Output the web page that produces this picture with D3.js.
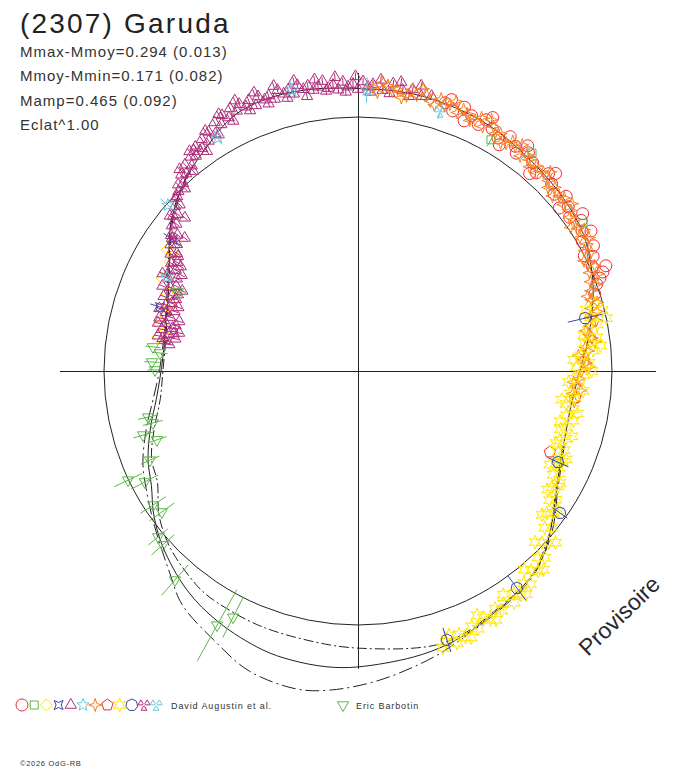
<!DOCTYPE html>
<html>
<head>
<meta charset="utf-8">
<script src="https://cdn.jsdelivr.net/npm/d3@7"></script>
<style>
body{margin:0;background:#fff;}
svg{display:block;font-family:"Liberation Sans",Arial,sans-serif;}
</style>
</head>
<body>
<script>
// phase angle in degrees (clockwise from top), relative flux (1 = reference circle), [error]
var fitSolid = [[0,1.112],[8,1.112],[15,1.110],[26,1.099],[36,1.079],[49,1.058],[58,1.040],[64,1.015],[70,0.985],[75,0.955],[82,0.915],[90,0.874],[97,0.852],[104,0.850],[110,0.861],[116,0.882],[122,0.919],[127,0.960],[132,1.006],[138,1.050],[146,1.079],[151,1.094],[156,1.114],[162,1.133],[169,1.147],[180,1.165],[186,1.171],[193,1.168],[199,1.160],[209,1.131],[218,1.094],[228,1.034],[235,0.982],[241,0.930],[247,0.898],[255,0.845],[262,0.802],[268,0.780],[274,0.770],[280,0.772],[286,0.785],[293,0.810],[301,0.866],[308,0.936],[316,1.000],[322,1.040],[326,1.064],[331,1.100],[336,1.124],[343,1.130],[350,1.125],[355,1.118]];
var fitInner = [[110,0.858],[120,0.902],[130,0.985],[140,1.058],[150,1.086],[157,1.112],[163,1.122],[169,1.112],[180,1.091],[186,1.084],[197,1.076],[204,1.073],[214,1.064],[219,1.048],[227,1.014],[234,0.968],[241,0.903],[247,0.883],[254,0.835],[262,0.786],[270,0.768],[280,0.768],[290,0.796],[300,0.856],[310,0.948],[320,1.026]];
var fitOuter = [[110,0.864],[120,0.910],[130,0.995],[140,1.064],[150,1.096],[157,1.122],[165,1.164],[176,1.220],[185,1.261],[191,1.275],[200,1.256],[208,1.203],[217,1.151],[223,1.087],[233,1.005],[241,0.954],[247,0.920],[255,0.862],[262,0.815],[270,0.782],[280,0.776],[290,0.802],[300,0.862],[310,0.955],[320,1.034]];

var augRedCircle = [[18,1.11],[19,1.13],[20,1.09],[22,1.12],[23,1.07],[24,1.10],[26,1.08],[27,1.11],[28,1.13],[29,1.09],[31,1.07],[32,1.05],[33,1.10],[35,1.08],[36,1.06],[37,1.11],[38,1.09],[40,1.07],[41,1.03],[42,1.05],[44,1.08],[45,1.10],[46,1.06],[48,1.04],[50,1.07],[51,1.02],[52,1.05],[54,1.03],[55,1.08],[56,1.06],[58,1.04],[59,1.07],[60,1.02],[62,1.05],[63,1.00],[64,1.03],[66,1.01],[67,1.06],[68,1.04],[69,1.02],[70,1.00],[72,0.98]];
var augGreenSquare = [[29.9,1.050,0.03],[38.6,1.098],[56.7,1.060],[114.7,0.867,0.02]];
var augYellowDiamond = [[302.4,0.890],[300.1,0.856],[295.4,0.854],[296.7,0.815],[292.2,0.812],[286.2,0.791],[279.6,0.799],[280.1,0.764],[302.4,0.867],[283.1,0.800],[289,0.780]];
var augBlueBowtie = [[305.3,0.893,0.045],[287.9,0.819,0.04]];
var augMagentaTriangle = [[278,0.75],[279,0.77],[279.5,0.78],[280,0.80],[280,0.73],[281,0.76],[281.5,0.74],[282,0.79],[282,0.72],[283,0.75],[283.5,0.81],[284,0.78],[284,0.74],[285,0.81],[285.5,0.73],[286,0.77],[287,0.79],[287.5,0.82],[288,0.76],[289,0.80],[289.5,0.75],[290,0.78],[291,0.82],[291.5,0.77],[292,0.79],[293,0.77],[293.5,0.84],[294,0.81],[294.5,0.76],[295,0.79],[296,0.83],[296.5,0.86],[297,0.80],[298,0.84],[298.5,0.79],[299,0.82],[300,0.85],[300.5,0.81],[301,0.83],[302,0.87],[302.5,0.84],[303,0.85],[304,0.89],[305,0.87],[305.5,0.90],[306,0.91],[307,0.89],[307.5,0.86],[308,0.93],[309,0.92],[309.5,0.96],[310,0.95],[311,0.94],[311.5,0.91],[312,0.97],[313,0.96],[313.5,0.99],[314,0.99],[315,1.00],[316,1.02],[316.5,0.99],[317,1.01],[318,1.04],[318.5,1.06],[319,1.03],[320,1.06],[320.5,1.02],[321,1.04],[322,1.07],[322.5,1.09],[323,1.06],[324,1.09],[325,1.07],[325.5,1.05],[326,1.10],[327,1.08],[327.5,1.12],[328,1.11],[329,1.09],[329.5,1.08],[330,1.13],[331,1.11],[331.5,1.15],[332,1.14],[333,1.12],[333.5,1.10],[334,1.15],[335,1.13],[335.5,1.17],[336,1.15],[337,1.13],[337.5,1.11],[338,1.15],[339,1.12],[339.5,1.17],[340,1.15],[341,1.13],[341.5,1.11],[342,1.14],[343,1.12],[343.5,1.17],[344,1.15],[345,1.13],[345.5,1.11],[346,1.14],[347,1.12],[347.5,1.17],[348,1.15],[349,1.13],[349.5,1.10],[350,1.14],[351,1.12],[351.5,1.16],[352,1.13],[353,1.15],[353.5,1.11],[354,1.12],[355,1.13],[355.5,1.16],[356,1.11],[357,1.14],[357.5,1.10],[358,1.12],[359,1.13],[359.5,1.16],[0,1.11],[1,1.14],[2,1.12],[2.5,1.10],[3,1.13],[4.5,1.15],[5,1.11],[6.5,1.10],[7,1.14],[8.5,1.15],[9,1.12],[10.5,1.10],[11,1.13],[12.5,1.15],[13,1.11],[15,1.12]];
var augCyanStar = [[346.8,1.136,0.04],[1.8,1.107,0.05],[329,1.070,0.03],[311.1,0.993,0.04],[296.2,0.838,0.03]];
var augOrangeStar = [[3,1.12],[4,1.10],[5,1.14],[6,1.13],[7,1.11],[8,1.12],[9,1.09],[10,1.10],[11,1.13],[12,1.11],[13,1.14],[14,1.12],[15,1.10],[16,1.09],[17,1.12],[18,1.10],[19,1.11],[20,1.13],[21,1.09],[22,1.11],[23,1.10],[24,1.08],[25,1.09],[26,1.11],[27,1.08],[28,1.12],[29,1.10],[30,1.08],[31,1.09],[32,1.06],[33,1.07],[34,1.09],[35,1.08],[36,1.10],[37,1.06],[38,1.08],[39,1.07],[40,1.05],[41,1.07],[42,1.05],[43,1.07],[44,1.09],[45,1.06],[46,1.04],[47,1.06],[48,1.03],[49,1.05],[50,1.06],[51,1.04],[52,1.07],[53,1.05],[54,1.03],[55,1.04],[56,1.01],[57,1.03],[58,1.05],[59,1.02],[60,1.05],[61,1.03],[62,1.01],[63,1.03],[64,0.99],[65,1.00],[66,1.02],[67,0.99],[68,1.02],[69,0.98],[70,1.00],[71,0.97],[72,0.95],[73,0.96],[74,0.98],[75,0.95],[76,0.97],[77,0.94],[78,0.96],[79,0.93],[80,0.91],[81,0.92],[82,0.93],[83,0.94],[84,0.90],[85,0.91],[86,0.87],[87,0.89],[88,0.90],[89,0.91],[90,0.88],[92,0.87],[93,0.85],[94,0.86],[95,0.88],[96,0.85],[98,0.86]];
var augRedPentagon = [[97.1,0.861],[112.9,0.820]];
var augYellowStar = [[74,0.97],[75,0.93],[76,0.99],[77,0.94],[78,1.00],[79,0.96],[80,0.92],[81,0.90],[82,0.95],[83,0.90],[84,0.96],[85,0.93],[86,0.88],[87,0.85],[88,0.91],[89,0.86],[90,0.92],[91,0.89],[92,0.85],[93,0.83],[94,0.87],[95,0.89],[96,0.84],[97,0.86],[98,0.81],[99,0.83],[100,0.86],[101,0.88],[102,0.84],[103,0.87],[104,0.82],[105,0.85],[106,0.83],[107,0.88],[108,0.86],[109,0.84],[110,0.83],[111,0.87],[112,0.85],[113,0.89],[114,0.88],[115,0.86],[116,0.84],[117,0.89],[118,0.87],[119,0.91],[120,0.91],[121,0.89],[122,0.88],[123,0.93],[124,0.91],[125,0.96],[126,0.95],[127,0.93],[128,0.92],[129,0.98],[130,0.96],[131,1.03],[132,1.01],[133,0.99],[134,0.97],[135,1.04],[136,1.02],[137,1.07],[138,1.06],[139,1.04],[140,1.02],[141,1.08],[142,1.06],[143,1.10],[144,1.09],[145,1.07],[146,1.10],[147,1.05],[148,1.08],[149,1.10],[150,1.08],[151,1.12],[152,1.11],[153,1.09],[154,1.07],[155,1.12],[156,1.10],[157,1.14],[158,1.13],[159,1.11],[160,1.14],[161,1.10],[162,1.12],[163,1.14]];
var augBlueHeptagon = [[76.9,0.918,0.07],[114.5,0.865,0.045],[125.1,0.972,0.035],[143.8,1.059,0.06],[161.7,1.115,0.05]];
var augMagentaTrefoil = [[324,1.08]];
var augCyanTrefoil = [[17.6,1.070,0.03]];
var barbotinTriangle = [[293.7,0.774,0.03],[276.7,0.813,0.03],[275.2,0.783,0.03],[272.5,0.812,0.03],[270.3,0.799,0.03],[257.6,0.846,0.04],[255.8,0.833,0.04],[253.4,0.883,0.04],[251.1,0.837,0.04],[246.8,0.891,0.04],[244.6,1.002,0.06],[242.5,0.946,0.06],[236.8,0.964,0.06],[234.3,0.951,0.06],[230.3,1.023,0.05],[228.3,1.029,0.06],[221.2,1.094,0.08],[209.0,1.144,0.16],[206.9,1.087,0.09]];

var titleText = "(2307) Garuda";
var statLines = ["Mmax-Mmoy=0.294 (0.013)", "Mmoy-Mmin=0.171 (0.082)", "Mamp=0.465 (0.092)", "Eclat^1.00"];

var cx = 358, cy = 371;
var axisExtent = 1.173;
var rScale = d3.scaleLinear().domain([0, 1]).range([0, 254]);

function xy(p, r){
    var a = p * Math.PI / 180;
    return [rScale(r) * Math.sin(a), -rScale(r) * Math.cos(a)];
}
function toPath(pts){
    return "M" + pts.map(function(p){ return p[0].toFixed(2) + "," + p[1].toFixed(2); }).join("L") + "Z";
}
function ring(n, R, rot){
    var pts = [];
    for (var i = 0; i < n; i++){
	var a = rot + 2 * Math.PI * i / n;
	pts.push([R * Math.sin(a), -R * Math.cos(a)]);
    }
    return toPath(pts);
}
function star(n, R, r){
    var pts = [];
    for (var i = 0; i < 2 * n; i++){
	var a = Math.PI * i / n, rr = i % 2 ? r : R;
	pts.push([rr * Math.sin(a), -rr * Math.cos(a)]);
    }
    return toPath(pts);
}
function trefoil(){
    var s = "";
    [-60, 60, 180].forEach(function(d){
	var a1 = (d - 28) * Math.PI / 180, a2 = (d + 28) * Math.PI / 180;
	s += toPath([[1.5*Math.sin(a1), -1.5*Math.cos(a1)], [6*Math.sin(a1), -6*Math.cos(a1)],
		     [6*Math.sin(a2), -6*Math.cos(a2)], [1.5*Math.sin(a2), -1.5*Math.cos(a2)]]);
    });
    return s;
}

var shapes = {
    circle: "M6,0A6,6 0 1,1 -6,0A6,6 0 1,1 6,0Z",
    square: "M-4,-4H4V4H-4Z",
    diamond: ring(4, 6, 0),
    bowtie: "M-4.5,-4.5L0,-2.5L4.5,-4.5L2.5,0L4.5,4.5L0,2.5L-4.5,4.5L-2.5,0Z",
    triangle: ring(3, 6.5, 0),
    star5: star(5, 6.5, 2.8),
    star4: star(4, 6.5, 2.2),
    pentagon: ring(5, 6, 0),
    star6: star(6, 7, 3.2),
    heptagon: ring(7, 6, 0),
    trefoil: trefoil(),
    triDown: ring(3, 6.5, Math.PI)
};

var sessions = [
    {data: augRedCircle, color: "#ec2d37", shape: "circle"},
    {data: augGreenSquare, color: "#5cb848", shape: "square"},
    {data: augYellowDiamond, color: "#ffe600", shape: "diamond"},
    {data: augBlueBowtie, color: "#3848a0", shape: "bowtie"},
    {data: augMagentaTriangle, color: "#b02c7c", shape: "triangle", err: 0.015},
    {data: augCyanStar, color: "#68c8dc", shape: "star5"},
    {data: augOrangeStar, color: "#f7801e", shape: "star4"},
    {data: augRedPentagon, color: "#ec2d37", shape: "pentagon"},
    {data: augYellowStar, color: "#ffe600", shape: "star6"},
    {data: augBlueHeptagon, color: "#3848a0", shape: "heptagon"},
    {data: augMagentaTrefoil, color: "#b02c7c", shape: "trefoil"},
    {data: augCyanTrefoil, color: "#68c8dc", shape: "trefoil"}
];
var barbotin = {data: barbotinTriangle, color: "#5cb848", shape: "triDown"};

var svg = d3.select("body").append("svg")
    .attr("width", 688)
    .attr("height", 768);

var plot = svg.append("g").attr("transform", "translate(" + cx + "," + cy + ")");

// axes
plot.append("line")
    .attr("x1", -rScale(axisExtent)).attr("x2", rScale(axisExtent))
    .attr("y1", 0).attr("y2", 0)
    .attr("stroke", "#222").attr("shape-rendering", "crispEdges");
plot.append("line")
    .attr("x1", 0).attr("x2", 0)
    .attr("y1", -rScale(axisExtent)).attr("y2", rScale(axisExtent))
    .attr("stroke", "#222").attr("shape-rendering", "crispEdges");

// reference circle
plot.append("circle")
    .attr("r", rScale(1))
    .attr("fill", "none").attr("stroke", "#222");

var radial = d3.lineRadial()
    .angle(function(d){ return d[0] * Math.PI / 180; })
    .radius(function(d){ return rScale(d[1]); });

plot.append("path")
    .attr("d", radial.curve(d3.curveCatmullRomClosed)(fitSolid))
    .attr("fill", "none").attr("stroke", "#222");
plot.append("path")
    .attr("d", radial.curve(d3.curveCatmullRom)(fitInner))
    .attr("fill", "none").attr("stroke", "#222")
    .attr("stroke-dasharray", "10,3,2,3");
plot.append("path")
    .attr("d", radial.curve(d3.curveCatmullRom)(fitOuter))
    .attr("fill", "none").attr("stroke", "#222")
    .attr("stroke-dasharray", "14,4,2,4");

function drawSession(s){
    var g = plot.append("g").attr("stroke", s.color).attr("fill", "none");
    var withErr = s.data.filter(function(d){ return d[2] !== undefined || s.err; });
    g.selectAll("line").data(withErr).join("line")
	.each(function(d){
	    var e = d[2] !== undefined ? d[2] : s.err;
	    var a = xy(d[0], d[1] - e), b = xy(d[0], d[1] + e);
	    d3.select(this).attr("x1", a[0]).attr("y1", a[1]).attr("x2", b[0]).attr("y2", b[1]);
	});
    g.selectAll("path").data(s.data).join("path")
	.attr("d", shapes[s.shape])
	.attr("transform", function(d){ return "translate(" + xy(d[0], d[1]) + ")"; });
}
sessions.forEach(drawSession);
drawSession(barbotin);

// title & stats
svg.append("text").attr("x", 20).attr("y", 33)
    .attr("font-size", 28).attr("letter-spacing", 2.2).attr("fill", "#222")
    .text(titleText);
svg.selectAll("text.stat").data(statLines).join("text")
    .attr("class", "stat")
    .attr("x", 20).attr("y", function(d, i){ return 57 + i * 24.4; })
    .attr("font-size", 15).attr("letter-spacing", 1).attr("fill", "#333")
    .text(function(d){ return d; });

// legend
var legendX = d3.scaleLinear().domain([0, 1]).range([22, 34.2]);
var leg = svg.append("g");
sessions.forEach(function(s, i){
    leg.append("path")
	.attr("d", shapes[s.shape])
	.attr("transform", "translate(" + legendX(i) + ",705)")
	.attr("fill", "none").attr("stroke", s.color);
});
leg.append("text").attr("x", 171).attr("y", 709)
    .attr("font-size", 9).attr("letter-spacing", 0.9).attr("fill", "#333")
    .text("David Augustin et al.");
leg.append("path")
    .attr("d", shapes[barbotin.shape])
    .attr("transform", "translate(343,705)")
    .attr("fill", "none").attr("stroke", barbotin.color);
leg.append("text").attr("x", 356).attr("y", 709)
    .attr("font-size", 9).attr("letter-spacing", 0.9).attr("fill", "#333")
    .text("Eric Barbotin");

svg.append("text").attr("x", 20).attr("y", 766)
    .attr("font-size", 7.5).attr("letter-spacing", 0.7).attr("fill", "#333")
    .text("\u00a92026 OdG-RB");

svg.append("text")
    .attr("transform", "translate(588,657) rotate(-44)")
    .attr("font-size", 23).attr("fill", "#2a2a2a")
    .text("Provisoire");
</script>
</body>
</html>
